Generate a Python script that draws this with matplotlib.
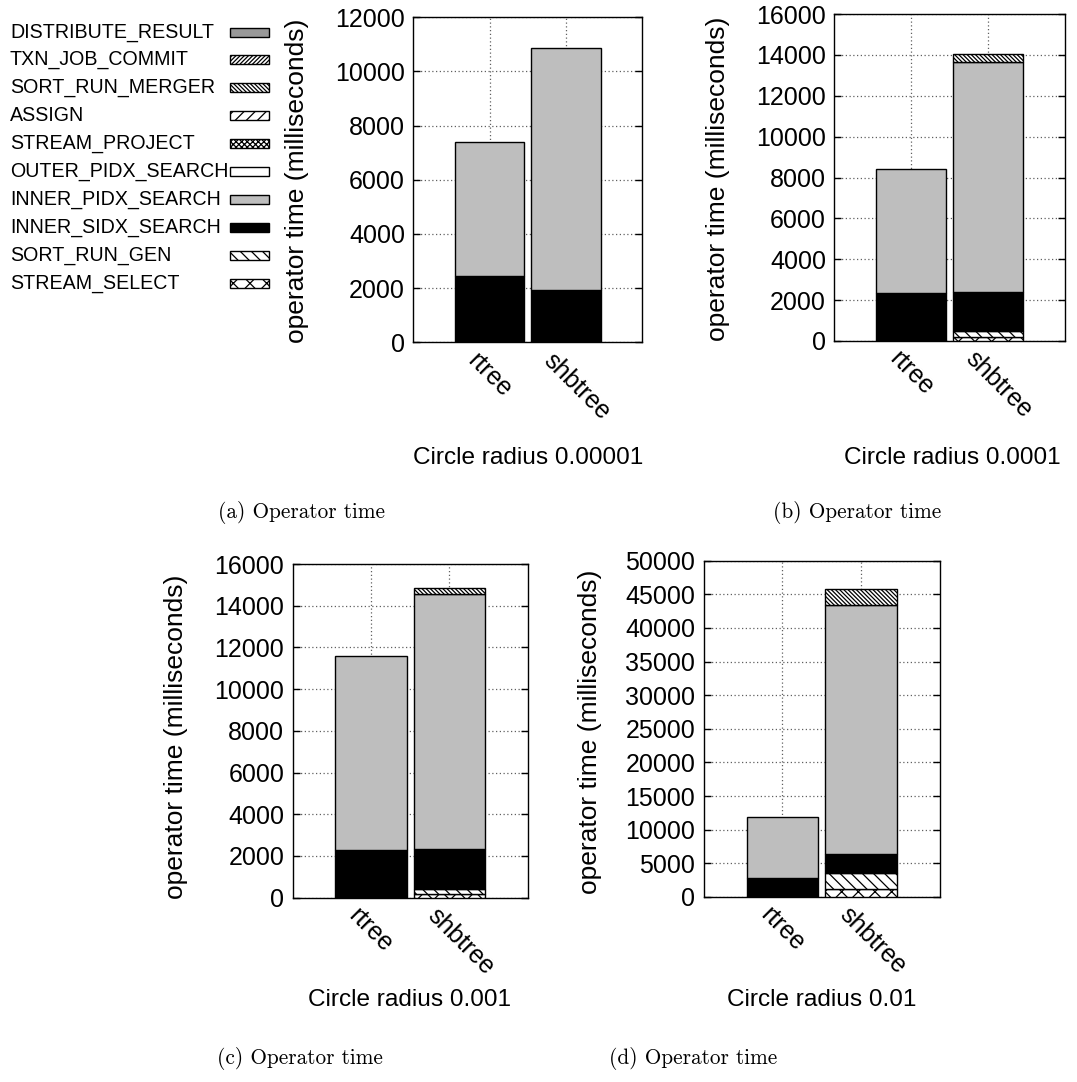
import matplotlib
matplotlib.use("Agg")
import matplotlib.pyplot as plt
from matplotlib.patches import Rectangle
import matplotlib.transforms as mtransforms

plt.rcParams["font.family"] = ["Liberation Sans", "DejaVu Sans"]
plt.rcParams["hatch.linewidth"] = 0.9

# Operators in stacking order (bottom to top)
operators = ["STREAM_SELECT", "SORT_RUN_GEN", "INNER_SIDX_SEARCH", "INNER_PIDX_SEARCH",
             "OUTER_PIDX_SEARCH", "STREAM_PROJECT", "ASSIGN", "SORT_RUN_MERGER",
             "TXN_JOB_COMMIT", "DISTRIBUTE_RESULT"]
index_types = ["rtree", "shbtree"]
radii = ["0.00001", "0.0001", "0.001", "0.01"]
captions = ["(a) Operator time", "(b) Operator time", "(c) Operator time", "(d) Operator time"]

# Operator times in milliseconds, same order as `operators`
rtree_r00001 = [0, 0, 2440, 4970, 0, 0, 0, 0, 0, 0]
shbtree_r00001 = [0, 0, 1940, 8910, 0, 0, 0, 0, 0, 0]
rtree_r0001 = [0, 0, 2350, 6070, 0, 0, 0, 0, 0, 0]
shbtree_r0001 = [180, 310, 1920, 11250, 0, 0, 0, 390, 0, 0]
rtree_r001 = [0, 0, 2290, 9300, 0, 0, 0, 0, 0, 0]
shbtree_r001 = [160, 240, 1930, 12220, 0, 0, 0, 290, 0, 0]
rtree_r01 = [0, 0, 2780, 9170, 0, 0, 0, 0, 0, 0]
shbtree_r01 = [1140, 2480, 2820, 36920, 0, 0, 0, 2430, 0, 0]

ymax = [12000, 16000, 16000, 50000]
ystep = [2000, 2000, 2000, 5000]

# fill colour and hatch per operator
styles = {
    "STREAM_SELECT": ("white", "xx"),
    "SORT_RUN_GEN": ("white", "\\\\\\"),
    "INNER_SIDX_SEARCH": ("black", None),
    "INNER_PIDX_SEARCH": ("#bebebe", None),
    "OUTER_PIDX_SEARCH": ("white", None),
    "STREAM_PROJECT": ("white", "xxxxxx"),
    "ASSIGN": ("white", "///"),
    "SORT_RUN_MERGER": ("white", "\\" * 8),
    "TXN_JOB_COMMIT": ("white", "/" * 8),
    "DISTRIBUTE_RESULT": ("#999999", None),
}

W, H = 1077, 1082
fig = plt.figure(figsize=(W / 100, H / 100), dpi=100)


def fx(x):
    return x / W


def fy(y):
    return 1 - y / H


def rect(x0, y0, x1, y1):
    return [fx(x0), fy(y1), (x1 - x0) / W, (y1 - y0) / H]


axes_px = [(413.3, 17.3, 642.3, 342.3),
           (834.3, 14.0, 1065.0, 341.0),
           (292.7, 564.0, 527.7, 897.7),
           (703.7, 560.7, 940.0, 897.0)]
ylabel_px = [(297, 181), (718, 179), (176, 737), (590, 732)]
xlabel_px = [(528, 458), (952, 458), (410, 1000), (822, 1000)]
caption_px = [(302, 512), (857, 512), (300, 1058), (693, 1058)]

panel_data = [(rtree_r00001, shbtree_r00001), (rtree_r0001, shbtree_r0001),
              (rtree_r001, shbtree_r001), (rtree_r01, shbtree_r01)]

tick_fs = 18
for i, (box, data) in enumerate(zip(axes_px, panel_data)):
    ax = fig.add_axes(rect(*box))
    ax.set_axisbelow(True)
    for xi, values in enumerate(data):
        bottom = 0
        for op, v in zip(operators, values):
            if v <= 0:
                continue
            color, hatch = styles[op]
            ax.bar(xi, v, bottom=bottom, width=0.91, color=color, hatch=hatch,
                   edgecolor="black", linewidth=1.0, zorder=3)
            bottom += v
    ax.set_xlim(-1, 2)
    ax.set_ylim(0, ymax[i])
    ax.set_yticks(range(0, ymax[i] + 1, ystep[i]))
    ax.set_xticks(range(len(index_types)))
    ax.set_xticklabels([])
    ax.tick_params(axis="y", direction="in", left=True, right=True, length=5,
                   width=1, labelsize=tick_fs, pad=6)
    ax.tick_params(axis="x", length=0)
    ax.grid(True, color="#606060", linestyle=(0, (1, 2)), linewidth=0.9)
    for s in ax.spines.values():
        s.set_linewidth(1.0)
    # rotated category labels
    for xi, name in enumerate(index_types):
        off = mtransforms.ScaledTranslation(-0.10, -0.06, fig.dpi_scale_trans)
        ax.text(xi, 0, name, transform=mtransforms.blended_transform_factory(
            ax.transData, ax.transAxes) + off,
            rotation=-45, rotation_mode="anchor", ha="left", va="top",
            fontsize=tick_fs)
    fig.text(fx(ylabel_px[i][0]), fy(ylabel_px[i][1]), "operator time (milliseconds)",
             rotation=90, ha="center", va="center", fontsize=19)
    fig.text(fx(xlabel_px[i][0]), fy(xlabel_px[i][1]), "Circle radius " + radii[i],
             ha="center", va="center", fontsize=17.6)
    fig.text(fx(caption_px[i][0]), fy(caption_px[i][1]), captions[i],
             ha="center", va="center", fontsize=15.3, family="cmr10")

# legend (top of stack first)
row0, row_gap = 32.0, 27.94
for k, op in enumerate(reversed(operators)):
    yc = row0 + k * row_gap
    fig.text(fx(10), fy(yc), op, ha="left", va="center", fontsize=14.1)
    color, hatch = styles[op]
    p = Rectangle((fx(230), fy(yc + 4.5)), 39 / W, 9 / H, transform=fig.transFigure,
                  facecolor=color, hatch=hatch, edgecolor="black", linewidth=1.0)
    fig.add_artist(p)

fig.savefig("out.png", dpi=100)
